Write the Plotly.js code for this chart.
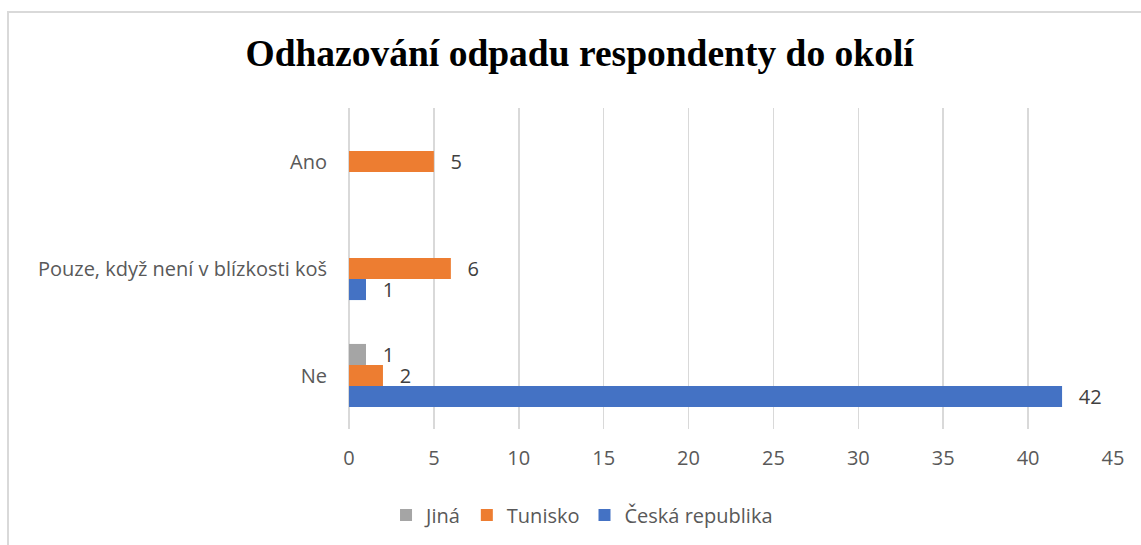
<!DOCTYPE html>
<html>
<head>
<meta charset="utf-8">
<script src="https://cdn.plot.ly/plotly-3.0.1.min.js"></script>
<style>
html,body{margin:0;padding:0;background:#fff;}
#wrap{position:relative;width:1141px;height:545px;overflow:hidden;}
#chart{width:1141px;height:545px;}
#frame{position:absolute;left:7px;top:11px;width:1200px;height:600px;border-top:2px solid #d9d9d9;border-left:2px solid #d9d9d9;pointer-events:none;}
</style>
</head>
<body>
<div id="wrap"><div id="chart"></div><div id="frame"></div></div>
<script>
const categories = ['Ne', 'Pouze, když není v blízkosti koš', 'Ano'];
const seriesNames = ['Česká republika', 'Tunisko', 'Jiná'];
const ceskaRepublika = [42, 1, null];
const tunisko = [2, 6, 5];
const jina = [1, null, null];
const colors = ['#4472c4', '#ed7d31', '#a5a5a5'];

const FONT = '"Open Sans", Lato, sans-serif';
const values = [ceskaRepublika, tunisko, jina];
const traces = values.map((v, i) => ({
  type: 'bar',
  orientation: 'h',
  name: seriesNames[i],
  y: categories,
  x: v,
  marker: {color: colors[i]},
  text: v.map(d => d == null ? '' : '\u00a0\u00a0\u2009' + d),
  textposition: 'outside',
  constraintext: 'none',
  textfont: {family: FONT, size: 20, color: '#404040'},
  cliponaxis: false,
  hoverinfo: 'x+name'
}));

const layout = {
  width: 1141, height: 545,
  margin: {l: 349, r: 28, t: 108, b: 115},
  paper_bgcolor: '#ffffff', plot_bgcolor: '#ffffff',
  barmode: 'group',
  bargap: 0.41,
  bargroupgap: 0,
  title: {
    text: '<b>Odhazování odpadu respondenty do okolí</b>',
    font: {family: '"Liberation Serif", "Times New Roman", serif', size: 37.5, color: '#000000'},
    x: 0.508, xref: 'container', xanchor: 'center',
    y: 0.903, yref: 'container', yanchor: 'middle'
  },
  xaxis: {
    range: [0, 45],
    dtick: 5,
    showgrid: true, gridcolor: '#d9d9d9', gridwidth: 1.5,
    zeroline: true, zerolinecolor: '#d9d9d9', zerolinewidth: 1.5,
    showline: false,
    ticks: '',
    tickfont: {family: FONT, size: 20, color: '#595959'},
    ticklabelstandoff: 15,
    fixedrange: true
  },
  yaxis: {
    type: 'category',
    categoryorder: 'array', categoryarray: categories,
    showgrid: false, zeroline: false, showline: false,
    ticks: '',
    tickfont: {family: FONT, size: 20, color: '#595959'},
    ticklabelstandoff: 21,
    fixedrange: true
  },
  legend: {
    orientation: 'h',
    traceorder: 'reversed',
    x: 0.305, xanchor: 'center',
    y: -0.264, yanchor: 'middle',
    font: {family: FONT, size: 20, color: '#595959'},
    itemwidth: 30
  },
  showlegend: true
};

Plotly.newPlot('chart', traces, layout, {displayModeBar: false, staticPlot: true});
</script>
</body>
</html>
